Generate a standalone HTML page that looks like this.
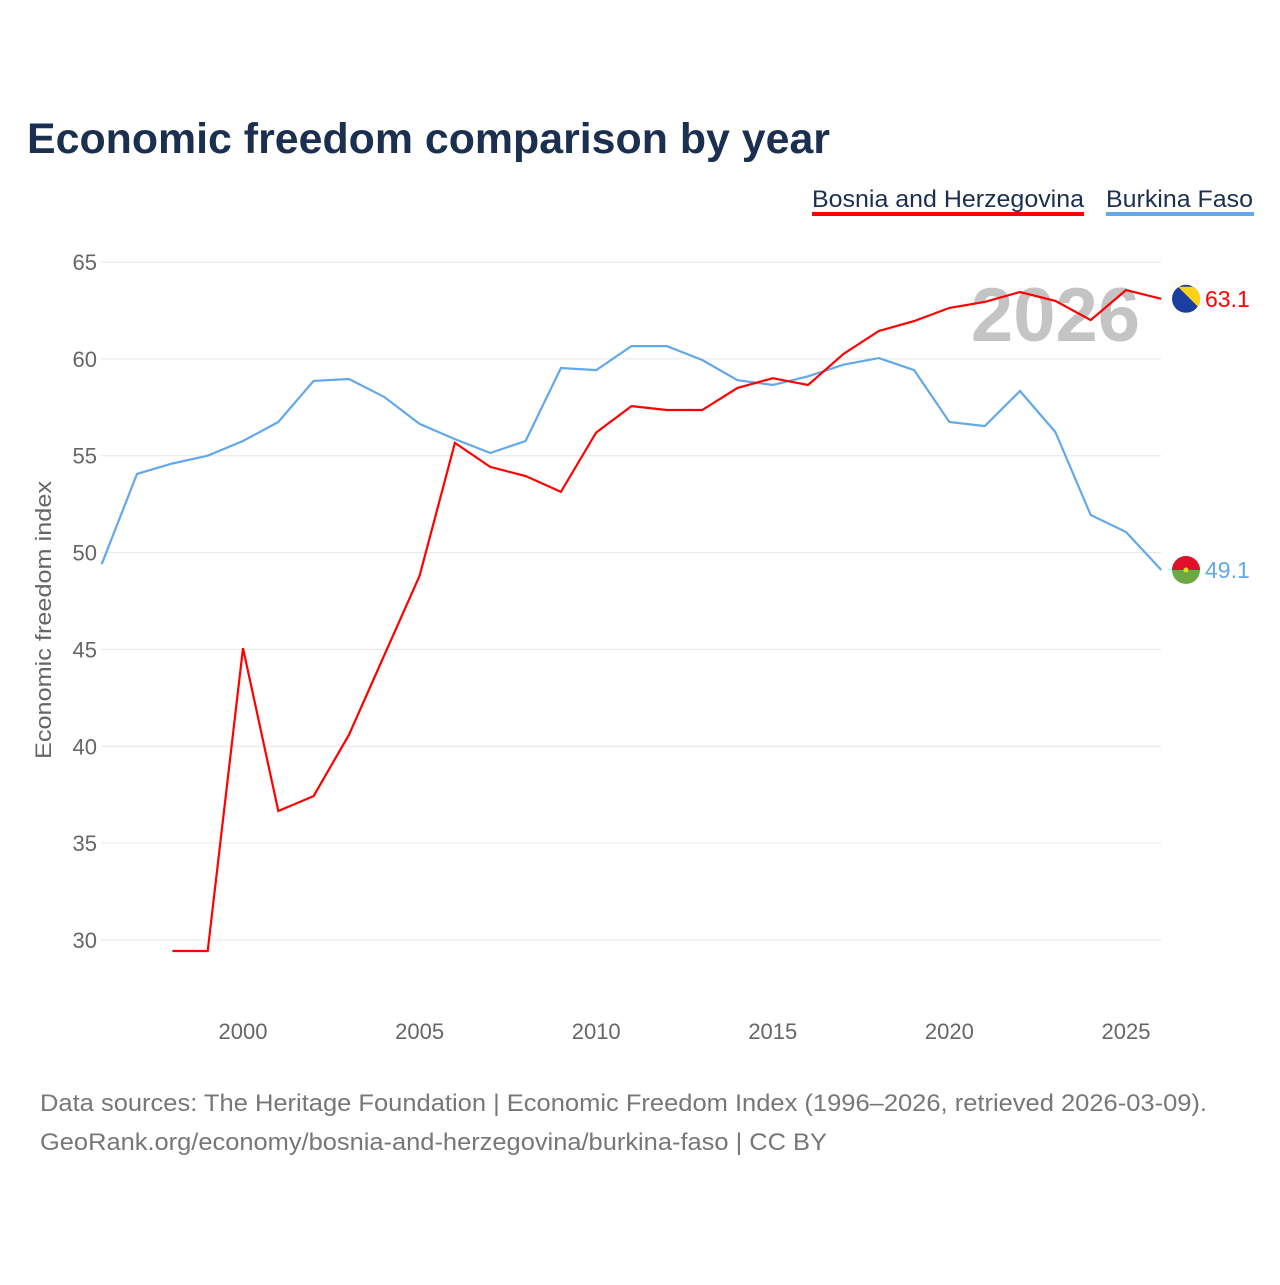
<!DOCTYPE html>
<html><head><meta charset="utf-8"><style>
body{margin:0;background:#fff;font-family:"Liberation Sans",sans-serif}
</style></head><body>
<svg width="1280" height="1280" xmlns="http://www.w3.org/2000/svg" id="svg">
<rect width="1280" height="1280" fill="#fff"/>
<text x="27" y="153" font-size="43" font-weight="bold" fill="#1b3050" textLength="803" lengthAdjust="spacingAndGlyphs">Economic freedom comparison by year</text>
<g><text x="812" y="207" font-size="24" fill="#1b3050" textLength="272" lengthAdjust="spacingAndGlyphs">Bosnia and Herzegovina</text><rect x="812" y="212" width="272" height="4" fill="#f00"/></g>
<g><text x="1106" y="207" font-size="24" fill="#1b3050" textLength="147" lengthAdjust="spacingAndGlyphs">Burkina Faso</text><rect x="1106" y="212" width="148" height="4" fill="#62a8ea"/></g>
<g id="grid"></g>
<text x="1140" y="341" font-size="76" font-weight="bold" fill="#c4c4c4" text-anchor="end">2026</text>
<text transform="translate(51,620) rotate(-90)" font-size="22" fill="#666" text-anchor="middle" textLength="278" lengthAdjust="spacingAndGlyphs">Economic freedom index</text>
<g id="series"></g>
<text x="40" y="1111" font-size="24" fill="#777" textLength="1167" lengthAdjust="spacingAndGlyphs">Data sources: The Heritage Foundation | Economic Freedom Index (1996–2026, retrieved 2026-03-09).</text>
<text x="40" y="1150" font-size="24" fill="#777" textLength="787" lengthAdjust="spacingAndGlyphs">GeoRank.org/economy/bosnia-and-herzegovina/burkina-faso | CC BY</text>
</svg>
<script>
const years=[1996,1997,1998,1999,2000,2001,2002,2003,2004,2005,2006,2007,2008,2009,2010,2011,2012,2013,2014,2015,2016,2017,2018,2019,2020,2021,2022,2023,2024,2025,2026];
const burkina=[49.4,54.06,54.6,55.0,55.76,56.74,58.86,58.96,58.03,56.64,55.86,55.14,55.76,59.53,59.42,60.66,60.66,59.94,58.9,58.65,59.1,59.7,60.04,59.42,56.74,56.53,58.34,56.22,51.94,51.06,49.1];
const bosnia=[null,null,29.43,29.43,45.07,36.66,37.43,40.6,44.7,48.8,55.66,54.42,53.95,53.13,56.2,57.56,57.36,57.36,58.5,59.0,58.65,60.25,61.44,61.95,62.63,62.94,63.45,62.99,62.0,63.55,63.1];
const yTicks=[30,35,40,45,50,55,60,65];
const xTicks=[2000,2005,2010,2015,2020,2025];
const NS="http://www.w3.org/2000/svg";
const X=v=>243+(v-2000)*35.32;
const Y=v=>262+(65-v)*19.371;
function mk(t,a,p){const e=document.createElementNS(NS,t);for(const k in a)e.setAttribute(k,a[k]);p.appendChild(e);return e;}
const g=document.getElementById('grid');
yTicks.forEach(v=>{
 const l=mk('line',{x1:101,x2:1161,y1:Y(v),y2:Y(v),stroke:'#e6e6e6','stroke-width':1},g);
 
 
 const t=mk('text',{x:97,y:Y(v)+8,'font-size':22,fill:'#666','text-anchor':'end'},g);t.textContent=v;
 
 
});
xTicks.forEach(v=>{
 const t=mk('text',{x:X(v),y:1039,'font-size':22,fill:'#666','text-anchor':'middle'},g);t.textContent=v;
 
 
});
const s=document.getElementById('series');
function line(vals,col,name){
 let d='';vals.forEach((v,i)=>{if(v==null)return;d+=(d?'L':'M')+X(years[i]).toFixed(1)+','+Y(v).toFixed(1);});
 const p=mk('path',{d:d,fill:'none',stroke:col,'stroke-width':2.2},s);
 
 
}
line(burkina,'#62a8ea','line-burkina-faso');
line(bosnia,'#f00','line-bosnia');
function endLabel(vals,col,name,flag){
 const v=vals[vals.length-1];const y=Y(v);
 const c=mk('g',{},s);
 
 
 if(flag==='bf'){
  mk('circle',{cx:1186,cy:y,r:14,fill:'#6ea842'},c);
  mk('path',{d:`M1172,${y} A14,14 0 0 1 1200,${y} Z`,fill:'#e0102b'},c);
  mk('circle',{cx:1186,cy:y,r:2.5,fill:'#fcd116'},c);
 } else {
  mk('circle',{cx:1186,cy:y,r:14,fill:'#1a3fa0'},c);
  mk('path',{d:`M1178,${y-12} L1198,${y+8} A14,14 0 0 0 1193,${y-12} Z`,fill:'#fcd116'},c);
 }
 const t=mk('text',{x:1205,y:y+8,'font-size':23,fill:col},s);t.textContent=v.toFixed(1);
 
 
}
endLabel(bosnia,'#f00','bosnia','ba');
endLabel(burkina,'#62a8ea','burkina','bf');
</script>
</body></html>
